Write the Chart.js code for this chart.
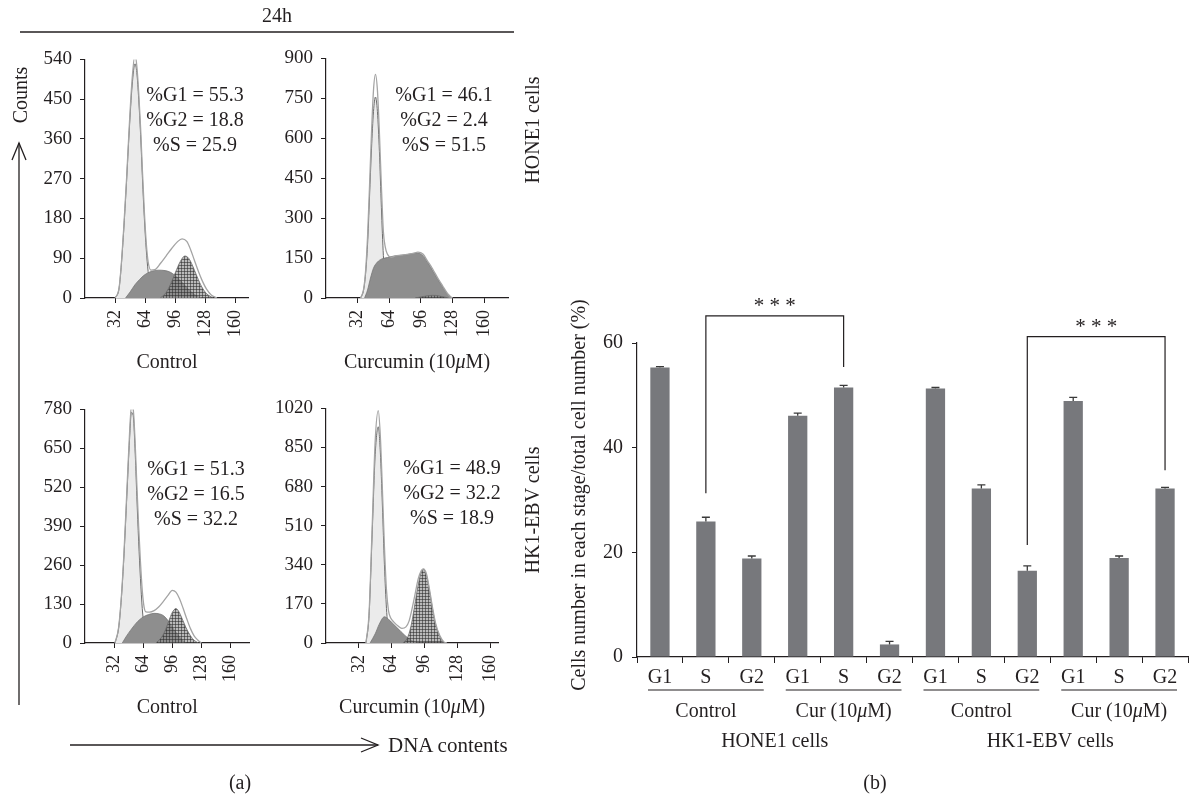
<!DOCTYPE html>
<html>
<head>
<meta charset="utf-8">
<script src="https://cdn.jsdelivr.net/npm/chart.js@4.4.1/dist/chart.umd.min.js"></script>
<style>
  body { margin: 0; background: #fff; }
  #fig { position: relative; width: 1189px; height: 795px; overflow: hidden; }
  canvas { position: absolute; }
  svg { position: absolute; left: 0; top: 0; }
</style>
</head>
<body>
<div id="fig">
  <canvas id="hone1Ctrl"></canvas>
  <canvas id="hone1Cur"></canvas>
  <canvas id="hk1Ctrl"></canvas>
  <canvas id="hk1Cur"></canvas>
  <canvas id="bars"></canvas>
  <svg width="1189" height="795" font-family='"Liberation Serif", serif' font-size="20" fill="#231f20">
    <line x1="20" y1="32" x2="514" y2="32" stroke="#231f20" stroke-width="1.3"/>
    <text x="277" y="15" text-anchor="middle" dominant-baseline="central">24h</text>
    <text transform="translate(20,95) rotate(-90)" text-anchor="middle" dominant-baseline="central">Counts</text>
    <line x1="19" y1="143" x2="19" y2="705" stroke="#231f20" stroke-width="1.3"/>
    <polyline points="12,160 19,143 26,160" fill="none" stroke="#231f20" stroke-width="1.3"/>
    <line x1="70" y1="745" x2="378" y2="745" stroke="#231f20" stroke-width="1.3"/>
    <polyline points="361,738 378,745 361,752" fill="none" stroke="#231f20" stroke-width="1.3"/>
    <text x="388" y="745" dominant-baseline="central" font-size="21">DNA contents</text>
    <text transform="translate(532,130) rotate(-90)" text-anchor="middle" dominant-baseline="central">HONE1 cells</text>
    <text transform="translate(532,510) rotate(-90)" text-anchor="middle" dominant-baseline="central">HK1-EBV cells</text>
    <text x="240" y="782" text-anchor="middle" dominant-baseline="central">(a)</text>
    <text x="875" y="782" text-anchor="middle" dominant-baseline="central">(b)</text>
  </svg>
</div>
<script>
const FONT = '"Liberation Serif", "Times New Roman", serif';
const INK = '#231f20';

// DNA content axis ticks (shared)
const dnaTicks = [32, 64, 96, 128, 160];

// HONE1 control histogram [DNA content, counts]
const hone1CtrlYTicks = [0, 90, 180, 270, 360, 450, 540];
const hone1CtrlG1 = [[32,0],[36,20],[38,60],[41,150],[44,260],[47,380],[50,480],[53,530],[55,510],[57,450],[59,370],[61,270],[63,180],[65,110],[67,60],[70,18],[73,0]];
const hone1CtrlS = [[43,0],[48,14],[53,30],[58,42],[63,52],[70,60],[78,63],[85,62],[90,59],[95,52],[100,42],[105,31],[110,19],[115,10],[120,3],[123,0]];
const hone1CtrlG2 = [[80,0],[86,12],[91,32],[96,58],[101,82],[106,95],[110,90],[114,74],[119,48],[124,25],[129,10],[136,0]];
const hone1CtrlTotal = [[32,0],[36,20],[38,62],[41,155],[44,265],[47,390],[50,495],[53,550],[55,525],[57,465],[59,385],[61,285],[63,195],[65,125],[67,82],[70,63],[74,64],[80,78],[86,95],[92,112],[98,127],[103,134],[108,128],[112,110],[116,86],[120,62],[124,41],[129,20],[134,7],[140,0]];
const hone1CtrlStats = ['%G1 = 55.3', '%G2 = 18.8', '%S = 25.9'];

// HONE1 curcumin histogram
const hone1CurYTicks = [0, 150, 300, 450, 600, 750, 900];
const hone1CurG1 = [[35,0],[38,30],[40,90],[42,200],[44,380],[46,560],[48,700],[50,755],[52,700],[54,550],[56,340],[58,160],[60,60],[62,15],[64,0]];
const hone1CurS = [[39,0],[42,30],[45,75],[48,112],[52,135],[56,146],[62,152],[68,157],[75,160],[82,163],[88,167],[93,168],[98,160],[103,133],[108,102],[113,70],[118,42],[123,14],[126,4],[128,0]];
const hone1CurG2 = [[90,0],[96,4],[102,8],[108,10],[114,8],[119,4],[124,0]];
const hone1CurTotal = [[35,0],[38,32],[40,100],[42,230],[44,420],[46,620],[48,780],[50,840],[52,780],[54,620],[56,420],[58,250],[60,190],[62,165],[66,153],[70,158],[76,161],[82,164],[88,168],[93,172],[98,165],[103,137],[108,108],[113,75],[118,45],[123,16],[126,5],[128,0]];
const hone1CurStats = ['%G1 = 46.1', '%G2 = 2.4', '%S = 51.5'];

// HK1-EBV control histogram
const hk1CtrlYTicks = [0, 130, 260, 390, 520, 650, 780];
const hk1CtrlG1 = [[33,0],[37,50],[40,150],[43,300],[46,490],[49,680],[51,770],[53,760],[55,650],[57,490],[59,340],[61,215],[63,115],[65,55],[67,20],[70,0]];
const hk1CtrlS = [[41,0],[45,20],[50,42],[54,58],[58,72],[64,87],[70,95],[76,99],[82,97],[86,92],[90,80],[94,62],[98,44],[103,24],[107,10],[111,0]];
const hk1CtrlG2 = [[78,0],[84,18],[88,40],[92,72],[96,102],[100,115],[103,106],[107,80],[111,52],[116,24],[120,9],[125,0]];
const hk1CtrlTotal = [[33,0],[37,52],[40,155],[43,310],[46,505],[49,700],[51,790],[53,780],[55,680],[57,530],[59,390],[61,270],[63,175],[65,120],[67,104],[71,103],[76,108],[81,120],[86,138],[91,158],[96,176],[100,170],[104,148],[108,115],[112,80],[116,48],[120,24],[124,10],[128,0]];
const hk1CtrlStats = ['%G1 = 51.3', '%G2 = 16.5', '%S = 32.2'];

// HK1-EBV curcumin histogram
const hk1CurYTicks = [0, 170, 340, 510, 680, 850, 1020];
const hk1CurG1 = [[39,0],[42,120],[45,470],[48,820],[51,940],[53,830],[55,600],[57,340],[59,150],[61,45],[63,0]];
const hk1CurS = [[43,0],[48,40],[52,82],[57,114],[61,103],[65,86],[69,68],[73,50],[77,33],[81,18],[85,7],[89,0]];
const hk1CurG2 = [[75,0],[79,18],[83,75],[86,150],[89,230],[92,295],[95,320],[98,295],[101,225],[104,145],[107,78],[111,28],[115,0]];
const hk1CurTotal = [[39,0],[42,130],[45,500],[48,880],[51,1010],[53,900],[55,670],[57,420],[59,230],[61,140],[63,110],[66,92],[70,75],[74,64],[78,70],[81,95],[84,150],[87,215],[90,280],[93,315],[95,322],[98,300],[101,232],[104,152],[107,84],[111,32],[115,5],[118,0]];
const hk1CurStats = ['%G1 = 48.9', '%G2 = 32.2', '%S = 18.9'];

// Panel (b) bar data
const phases = ['G1', 'S', 'G2', 'G1', 'S', 'G2', 'G1', 'S', 'G2', 'G1', 'S', 'G2'];
const barValues = [55.3, 25.9, 18.8, 46.1, 51.5, 2.4, 51.3, 32.2, 16.5, 48.9, 18.9, 32.2];
const barErrors = [0.2, 0.8, 0.5, 0.5, 0.4, 0.6, 0.2, 0.7, 0.9, 0.7, 0.4, 0.2];
const barTicks = [0, 20, 40, 60];
const treatments = ['Control', 'Cur (10μM)', 'Control', 'Cur (10μM)'];
const cellLines = ['HONE1 cells', 'HK1-EBV cells'];
// significance brackets: [left bar, right bar, left leg bottom, right leg bottom, top]
const sigBrackets = [[1, 4, 31.3, 55.4, 65.2], [8, 11, 21.4, 35.7, 61.2]];

// hatch tile for the G2 area
const hatchTile = document.createElement('canvas');
hatchTile.width = 3; hatchTile.height = 3;
{
  const h = hatchTile.getContext('2d');
  h.fillStyle = 'rgba(140,140,140,0.6)';
  h.fillRect(0, 0, 3, 3);
  h.fillStyle = 'rgba(40,40,40,0.55)';
  h.fillRect(0, 0, 3, 1);
  h.fillRect(0, 0, 1, 3);
}

// text with an italic mu
function drawMixed(ctx, text, cx, cy, size) {
  const parts = [];
  text.split('μ').forEach((t, i) => {
    if (i > 0) parts.push(['μ', true]);
    if (t) parts.push([t, false]);
  });
  const fontOf = it => (it ? 'italic ' : '') + size + 'px ' + FONT;
  let total = 0;
  parts.forEach(([t, it]) => { ctx.font = fontOf(it); total += ctx.measureText(t).width; });
  let x = cx - total / 2;
  ctx.textAlign = 'left';
  ctx.textBaseline = 'middle';
  parts.forEach(([t, it]) => {
    ctx.font = fontOf(it);
    ctx.fillText(t, x, cy);
    x += ctx.measureText(t).width;
  });
}

const panels = [
  { id: 'hone1Ctrl', left: 10, top: 40, w: 255, h: 337, xMax: 174, yTicks: hone1CtrlYTicks,
    g1: hone1CtrlG1, s: hone1CtrlS, g2: hone1CtrlG2, total: hone1CtrlTotal, stats: hone1CtrlStats,
    title: 'Control', textX: 110, textY: 36 },
  { id: 'hone1Cur', left: 251, top: 39, w: 265, h: 338, xMax: 184, yTicks: hone1CurYTicks,
    g1: hone1CurG1, s: hone1CurS, g2: hone1CurG2, total: hone1CurTotal, stats: hone1CurStats,
    title: 'Curcumin (10μM)', textX: 118, textY: 37 },
  { id: 'hk1Ctrl', left: 10, top: 390, w: 250, h: 332, xMax: 181, yTicks: hk1CtrlYTicks,
    g1: hk1CtrlG1, s: hk1CtrlS, g2: hk1CtrlG2, total: hk1CtrlTotal, stats: hk1CtrlStats,
    title: 'Control', textX: 111, textY: 60 },
  { id: 'hk1Cur', left: 251, top: 389, w: 268, h: 333, xMax: 168, yTicks: hk1CurYTicks,
    g1: hk1CurG1, s: hk1CurS, g2: hk1CurG2, total: hk1CurTotal, stats: hk1CurStats,
    title: 'Curcumin (10μM)', textX: 126, textY: 60 }
];

const pts = a => a.map(([x, y]) => ({ x, y }));

function histChart(p) {
  const cv = document.getElementById(p.id);
  cv.width = p.w; cv.height = p.h;
  cv.style.left = p.left + 'px'; cv.style.top = p.top + 'px';
  const ctx = cv.getContext('2d');
  const hatch = ctx.createPattern(hatchTile, 'repeat');

  new Chart(ctx, {
    type: 'line',
    data: {
      datasets: [
        { data: pts(p.total), borderColor: '#a4a4a4', borderWidth: 1.3, fill: false, order: 1 },
        { data: pts(p.g2), borderColor: '#6a6a6a', borderWidth: 0.8, backgroundColor: hatch, fill: 'origin', order: 2 },
        { data: pts(p.s), borderColor: '#767676', borderWidth: 0.8, backgroundColor: '#8e8e8e', fill: 'origin', order: 3 },
        { data: pts(p.g1), borderColor: '#6c6c6c', borderWidth: 1, backgroundColor: '#ebebeb', fill: 'origin', order: 4 }
      ]
    },
    options: {
      responsive: false,
      animation: false,
      events: [],
      elements: { point: { radius: 0 }, line: { cubicInterpolationMode: 'monotone' } },
      plugins: { legend: { display: false }, tooltip: { enabled: false } },
      layout: { padding: { top: 15, right: 8, left: 0, bottom: 0 } },
      scales: {
        x: {
          type: 'linear', min: 0, max: p.xMax,
          afterBuildTicks: s => { s.ticks = dnaTicks.map(v => ({ value: v })); },
          afterFit: s => { s.height = 79; },
          ticks: { minRotation: 90, maxRotation: 90, autoSkip: false, padding: 7, color: INK,
                   font: { family: FONT, size: 18 }, callback: v => String(v) },
          grid: { drawOnChartArea: false, tickLength: 5, color: INK, lineWidth: 1 },
          border: { color: INK, width: 1.2 }
        },
        y: {
          min: 0, max: p.yTicks[p.yTicks.length - 1],
          afterBuildTicks: s => { s.ticks = p.yTicks.map(v => ({ value: v })); },
          afterFit: s => { s.width = 75; },
          ticks: { padding: 8, color: INK, font: { family: FONT, size: 19 }, callback: v => String(v) },
          grid: { drawOnChartArea: false, tickLength: 5, color: INK, lineWidth: 1 },
          border: { color: INK, width: 1.2 }
        }
      }
    },
    plugins: [{
      id: 'histText',
      afterDraw(c) {
        const { ctx, chartArea: a } = c;
        ctx.save();
        ctx.fillStyle = INK;
        ctx.textAlign = 'center';
        ctx.textBaseline = 'middle';
        ctx.font = '20px ' + FONT;
        p.stats.forEach((s, i) => ctx.fillText(s, a.left + p.textX, a.top + p.textY + i * 25));
        drawMixed(ctx, p.title, (a.left + a.right) / 2, a.bottom + 65, 20);
        ctx.restore();
      }
    }]
  });
}

panels.forEach(histChart);

// Panel (b)
const barPlugin = {
  id: 'barExtras',
  afterDatasetsDraw(c) {
    const { ctx, scales: { x, y } } = c;
    ctx.save();
    ctx.strokeStyle = '#3a3a3a';
    ctx.lineWidth = 1.3;
    barValues.forEach((v, i) => {
      const px = x.getPixelForValue(i);
      const y0 = y.getPixelForValue(v);
      const y1 = y.getPixelForValue(v + barErrors[i]);
      ctx.beginPath();
      ctx.moveTo(px, y0); ctx.lineTo(px, y1);
      ctx.moveTo(px - 4, y1); ctx.lineTo(px + 4, y1);
      ctx.stroke();
    });
    ctx.restore();
  },
  afterDraw(c) {
    const { ctx, chartArea: a, scales: { x, y } } = c;
    const cat = x.getPixelForValue(1) - x.getPixelForValue(0);
    ctx.save();
    ctx.strokeStyle = INK;
    ctx.fillStyle = INK;
    ctx.lineWidth = 1.2;
    // significance brackets
    sigBrackets.forEach(([i1, i2, b1, b2, top]) => {
      const x1 = x.getPixelForValue(i1), x2 = x.getPixelForValue(i2);
      const yt = y.getPixelForValue(top);
      ctx.beginPath();
      ctx.moveTo(x1, y.getPixelForValue(b1));
      ctx.lineTo(x1, yt); ctx.lineTo(x2, yt);
      ctx.lineTo(x2, y.getPixelForValue(b2));
      ctx.stroke();
      ctx.font = '21px ' + FONT;
      ctx.textAlign = 'center';
      ctx.textBaseline = 'middle';
      ctx.fillText('* * *', (x1 + x2) / 2, yt - 9);
    });
    // treatment groups
    treatments.forEach((t, g) => {
      const left = x.getPixelForValue(g * 3) - cat / 2;
      const right = x.getPixelForValue(g * 3 + 2) + cat / 2;
      ctx.beginPath();
      ctx.moveTo(left + 11, a.bottom + 33);
      ctx.lineTo(right - 11, a.bottom + 33);
      ctx.stroke();
      drawMixed(ctx, t, (left + right) / 2, a.bottom + 55, 20);
    });
    // cell lines
    ctx.font = '20px ' + FONT;
    ctx.textAlign = 'center';
    ctx.textBaseline = 'middle';
    cellLines.forEach((t, k) => {
      const cx = (x.getPixelForValue(k * 6) + x.getPixelForValue(k * 6 + 5)) / 2;
      ctx.fillText(t, cx, a.bottom + 85);
    });
    // y title
    ctx.translate(a.left - 57, (a.top + a.bottom) / 2 - 5);
    ctx.rotate(-Math.PI / 2);
    ctx.fillText('Cells number in each stage/total cell number (%)', 0, 0);
    ctx.restore();
  }
};

{
  const cv = document.getElementById('bars');
  cv.width = 629; cv.height = 525;
  cv.style.left = '560px'; cv.style.top = '270px';
  new Chart(cv.getContext('2d'), {
    type: 'bar',
    data: {
      labels: phases,
      datasets: [{ data: barValues, backgroundColor: '#77787c', barPercentage: 0.42, categoryPercentage: 1 }]
    },
    options: {
      responsive: false,
      animation: false,
      events: [],
      plugins: { legend: { display: false }, tooltip: { enabled: false } },
      layout: { padding: { top: 73, right: 1, left: 0, bottom: 0 } },
      scales: {
        x: {
          afterFit: s => { s.height = 138; },
          ticks: { padding: 3, color: INK, font: { family: FONT, size: 20 } },
          grid: { offset: true, drawOnChartArea: false, tickLength: 6, color: INK, lineWidth: 1 },
          border: { color: INK, width: 1.2 }
        },
        y: {
          min: 0, max: 60,
          afterBuildTicks: s => { s.ticks = barTicks.map(v => ({ value: v })); },
          afterFit: s => { s.width = 77; },
          ticks: { padding: 9, color: INK, font: { family: FONT, size: 20 } },
          grid: { drawOnChartArea: false, tickLength: 5, color: INK, lineWidth: 1 },
          border: { color: INK, width: 1.2 }
        }
      }
    },
    plugins: [barPlugin]
  });
}
</script>
</body>
</html>
